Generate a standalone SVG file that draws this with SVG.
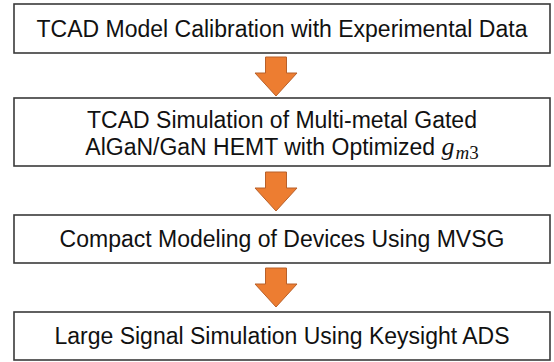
<svg xmlns="http://www.w3.org/2000/svg" width="554" height="362" viewBox="0 0 554 362">
  <defs>
    <style>
      .box { fill: #ffffff; stroke: #3a3a3a; stroke-width: 1.6; }
      .lbl { font-family: "Liberation Sans", Arial, sans-serif; font-size: 23px; fill: #111111; text-anchor: middle; }
      .math { font-family: "Liberation Serif", "Times New Roman", serif; font-style: italic; }
      .arrow { fill: #ED7D31; stroke: #B8602A; stroke-width: 1; stroke-linejoin: miter; }
    </style>
    <!-- block down-arrow, origin at top centre -->
    <path id="downArrow" class="arrow" d="M-10.5,0 H10.5 V16 H21 L0,39 L-21,16 H-10.5 Z"/>
  </defs>

  <rect width="554" height="362" fill="#ffffff"/>

  <g id="step1">
    <rect class="box" x="14" y="4" width="536" height="49"/>
    <text class="lbl" x="282" y="36.5">TCAD Model Calibration with Experimental Data</text>
  </g>

  <g id="step2">
    <rect class="box" x="14" y="98" width="536" height="68"/>
    <text class="lbl" x="282" y="128">TCAD Simulation of Multi-metal Gated</text>
    <text class="lbl" x="282" y="155">AlGaN/GaN HEMT with Optimized <tspan class="math" font-size="26">g</tspan><tspan class="math" font-size="19" dy="4" dx="1">m</tspan><tspan font-family="Liberation Serif, serif" font-size="19">3</tspan></text>
  </g>

  <g id="step3">
    <rect class="box" x="14" y="215" width="536" height="48"/>
    <text class="lbl" x="282" y="247">Compact Modeling of Devices Using MVSG</text>
  </g>

  <g id="step4">
    <rect class="box" x="14" y="312" width="536" height="48"/>
    <text class="lbl" x="282" y="344">Large Signal Simulation Using Keysight ADS</text>
  </g>

  <g id="connectors">
    <use href="#downArrow" x="276" y="57"/>
    <use href="#downArrow" x="276" y="172"/>
    <use href="#downArrow" x="276" y="268"/>
  </g>
</svg>
